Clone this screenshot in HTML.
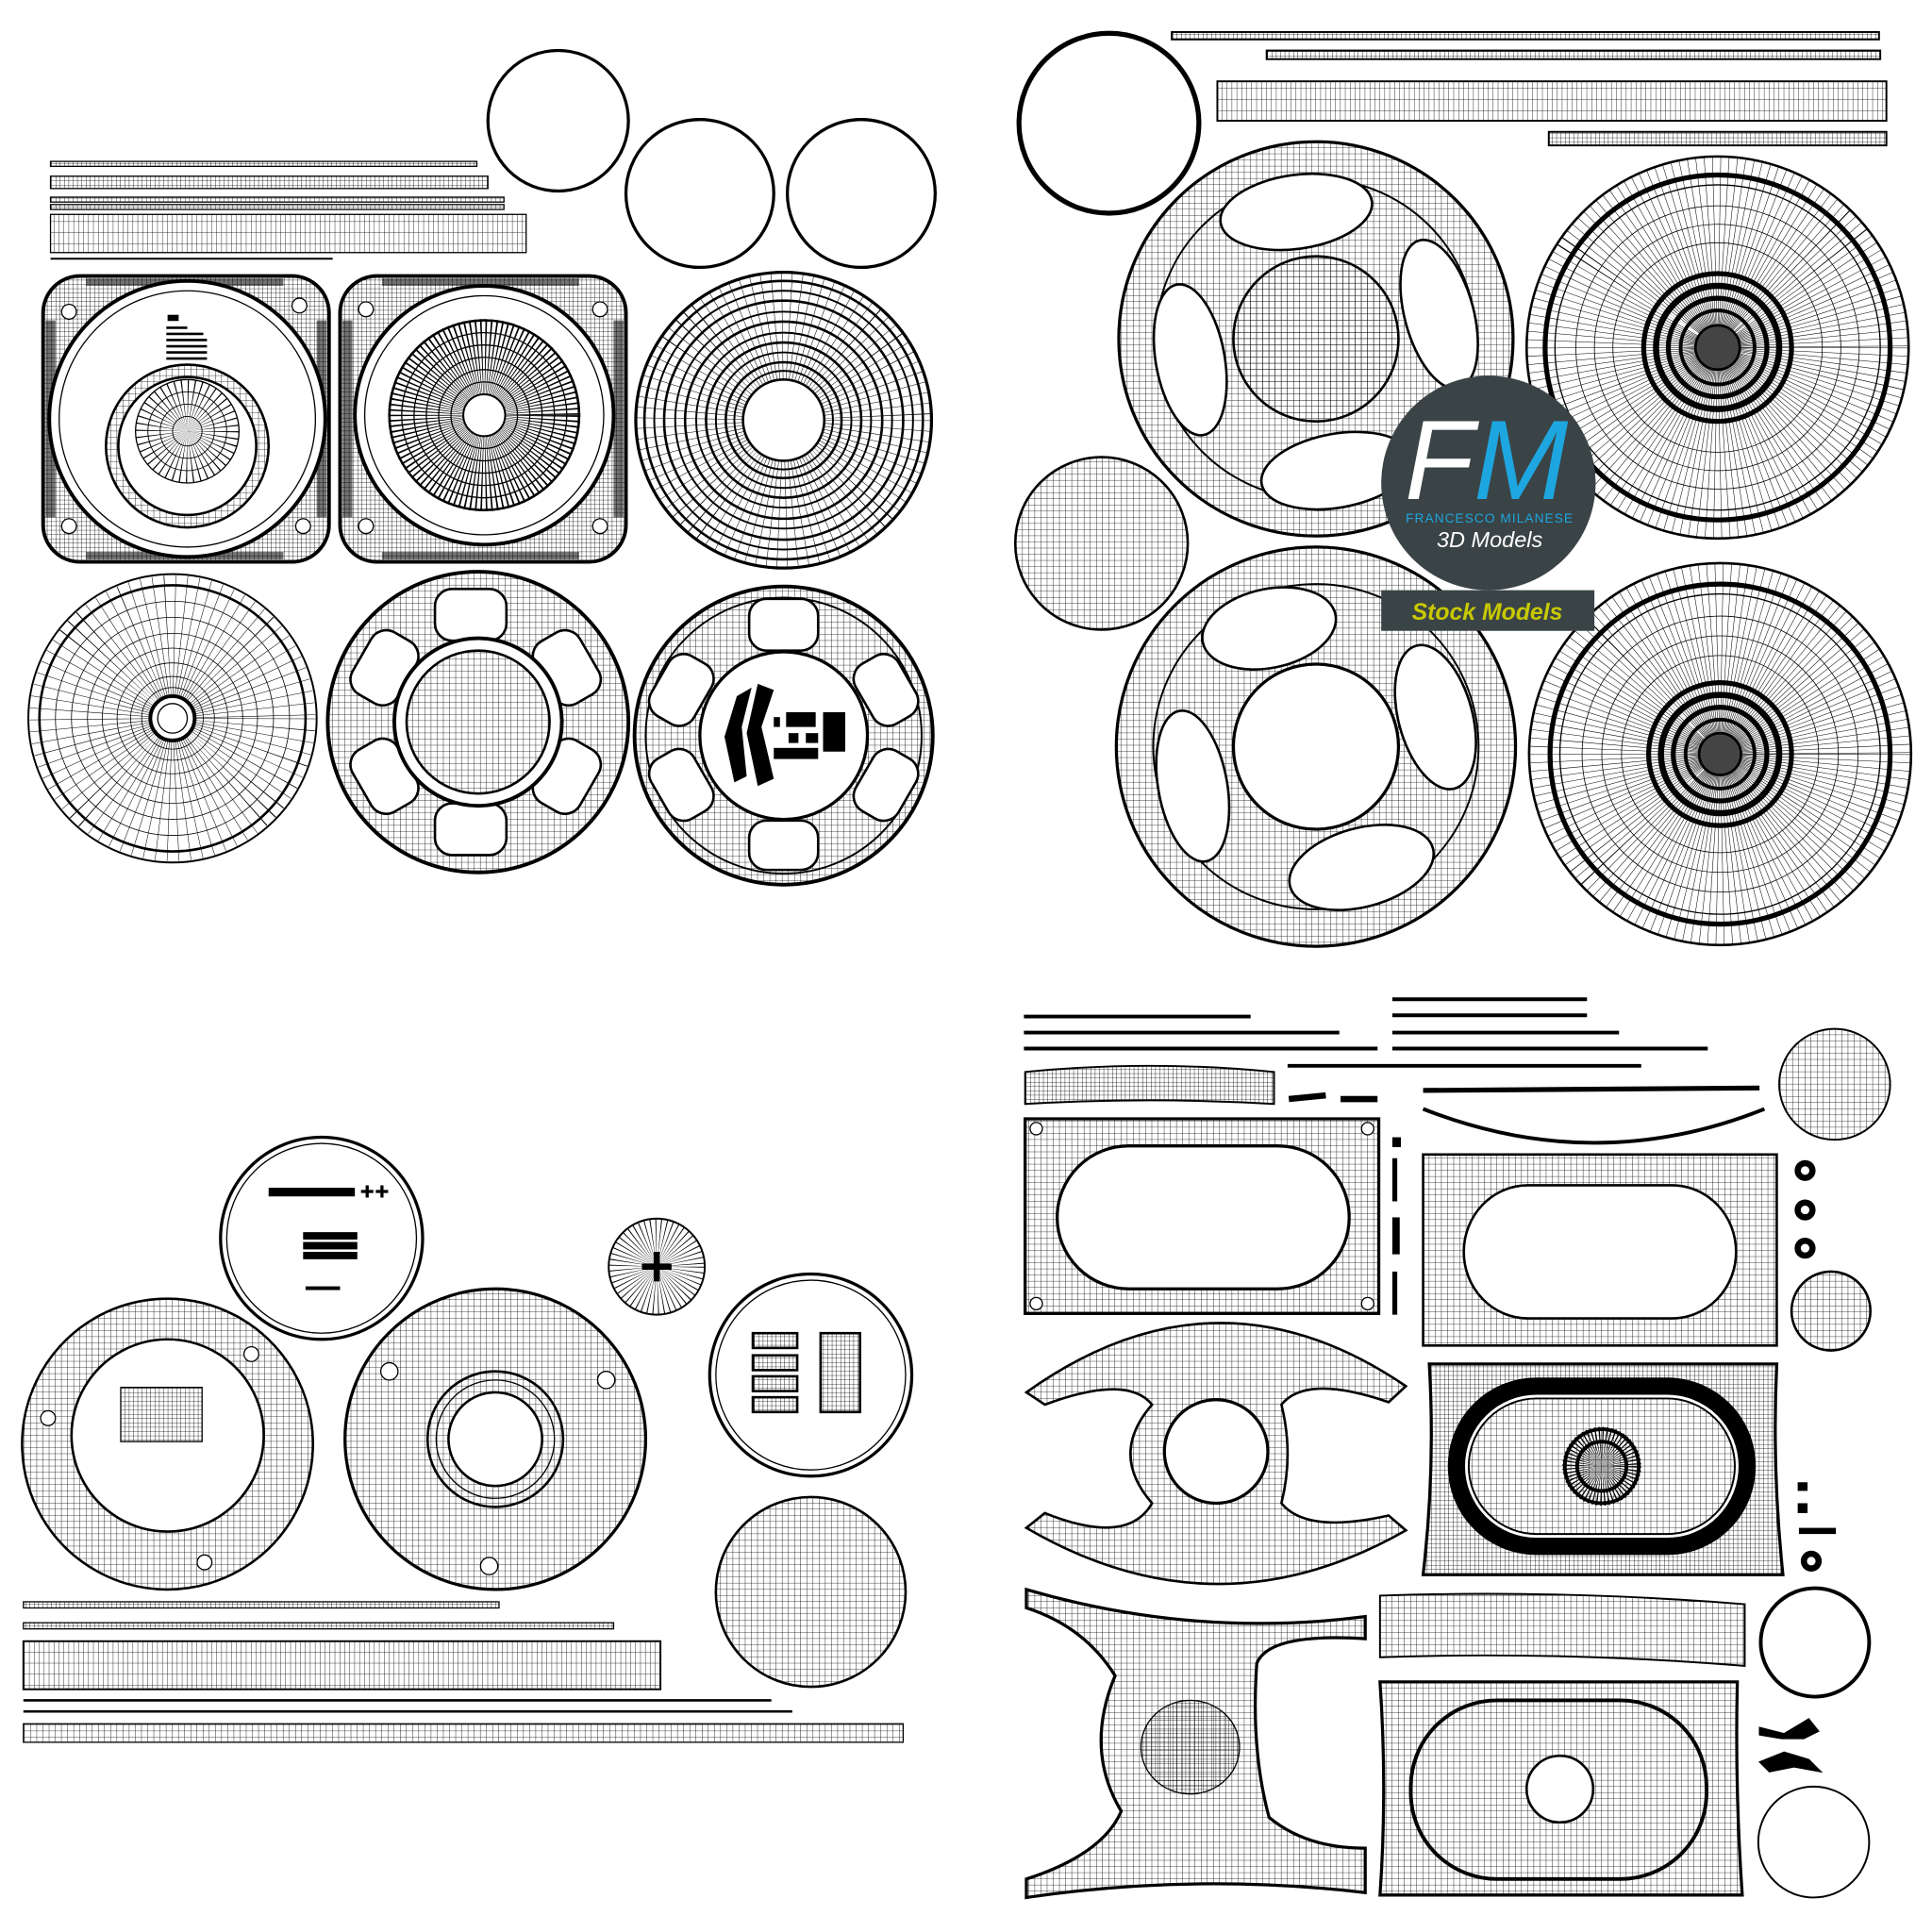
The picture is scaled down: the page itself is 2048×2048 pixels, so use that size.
<!DOCTYPE html>
<html><head><meta charset="utf-8"><style>
html,body{margin:0;padding:0;background:#fff}
svg{display:block}
</style></head><body>
<svg width="2048" height="2048" viewBox="0 0 1568 1568" xmlns="http://www.w3.org/2000/svg">
<defs>
<pattern id="g" width="5" height="5" patternUnits="userSpaceOnUse"><path d="M5 0V5H0" fill="none" stroke="#000" stroke-width="0.6"/></pattern>
<pattern id="g2" width="3.5" height="3.5" patternUnits="userSpaceOnUse"><path d="M3.5 0V3.5H0" fill="none" stroke="#000" stroke-width="0.6"/></pattern>
<pattern id="gv" width="4" height="9" patternUnits="userSpaceOnUse"><path d="M4 0V9M0 9H4" fill="none" stroke="#000" stroke-width="0.6"/></pattern>
</defs>
<rect width="1568" height="1568" fill="#fff"/>
<g fill="none" stroke="#000">

<!-- TOP LEFT -->
<circle cx="453" cy="98" r="57" stroke-width="2.5"/>
<circle cx="568" cy="157" r="60" stroke-width="2.5"/>
<circle cx="699" cy="157" r="60" stroke-width="2.5"/>
<rect x="41" y="131" width="346" height="4" fill="url(#g2)" stroke-width="1"/>
<rect x="41" y="143" width="355" height="10" fill="url(#g2)" stroke-width="1"/>
<rect x="41" y="160" width="368" height="4" fill="url(#g2)" stroke-width="1"/>
<rect x="41" y="166" width="368" height="4" fill="url(#g2)" stroke-width="1"/>
<rect x="41" y="174" width="386" height="31" fill="url(#gv)" stroke-width="1"/>
<line x1="41" y1="210" x2="270" y2="210" stroke-width="1.5"/>

<!-- speaker 1 -->
<rect x="35" y="224" width="232" height="232" rx="30" fill="url(#g2)" stroke-width="3"/>
<g fill="#000" stroke="none" opacity="0.55"><rect x="37" y="260" width="8" height="160"/><rect x="257" y="260" width="8" height="160"/><rect x="70" y="226" width="160" height="6"/><rect x="70" y="448" width="160" height="6"/></g>
<circle cx="152" cy="340" r="112" fill="#fff" stroke-width="3"/>
<circle cx="152" cy="340" r="104" stroke-width="1"/>
<circle cx="56" cy="253" r="6" fill="#fff"/><circle cx="243" cy="248" r="6" fill="#fff"/>
<circle cx="56" cy="427" r="6" fill="#fff"/><circle cx="246" cy="427" r="6" fill="#fff"/>
<circle cx="152" cy="362" r="66" fill="url(#g)" stroke-width="2"/>
<circle cx="152" cy="362" r="56" fill="#fff" stroke-width="2"/>
<circle cx="152" cy="350" r="21" stroke-width="42" stroke-dasharray="0.5 2.5"/>
<circle cx="152" cy="350" r="42" stroke-width="1"/><circle cx="152" cy="350" r="32" stroke-width="0.7"/><circle cx="152" cy="350" r="22" stroke-width="0.7"/><circle cx="152" cy="350" r="12" stroke-width="0.7"/>
<g stroke-width="2"><line x1="136" y1="258" x2="145" y2="258" stroke-width="5"/><line x1="135" y1="266" x2="152" y2="266"/><line x1="135" y1="271" x2="165" y2="271"/><line x1="135" y1="276" x2="168" y2="276"/><line x1="135" y1="281" x2="168" y2="281"/><line x1="135" y1="286" x2="168" y2="286"/><line x1="135" y1="291" x2="168" y2="291"/></g>

<!-- speaker 2 -->
<rect x="276" y="224" width="232" height="232" rx="30" fill="url(#g2)" stroke-width="3"/>
<g fill="#000" stroke="none" opacity="0.55"><rect x="278" y="260" width="8" height="160"/><rect x="498" y="260" width="8" height="160"/><rect x="310" y="226" width="160" height="6"/><rect x="310" y="448" width="160" height="6"/></g>
<circle cx="393" cy="337" r="105" fill="#fff" stroke-width="3"/>
<circle cx="393" cy="337" r="97" stroke-width="1"/>
<circle cx="297" cy="251" r="6" fill="#fff"/><circle cx="487" cy="251" r="6" fill="#fff"/>
<circle cx="297" cy="427" r="6" fill="#fff"/><circle cx="487" cy="427" r="6" fill="#fff"/>
<circle cx="393" cy="337" r="39" stroke-width="78" stroke-dasharray="0.7 1.6"/>
<circle cx="393" cy="337" r="77" stroke-width="2"/><circle cx="393" cy="337" r="67" stroke-width="1"/><circle cx="393" cy="337" r="57" stroke-width="1"/><circle cx="393" cy="337" r="47" stroke-width="1"/><circle cx="393" cy="337" r="37" stroke-width="1"/><circle cx="393" cy="337" r="27" stroke-width="1"/>
<circle cx="393" cy="337" r="17" fill="#fff" stroke-width="1.5"/>

<!-- concentric disc -->
<circle cx="636" cy="341" r="60" stroke-width="120" stroke-dasharray="0.4 4"/>
<circle cx="636" cy="341" r="120" stroke-width="2.5"/>
<circle cx="636" cy="341" r="113" stroke-width="2"/><circle cx="636" cy="341" r="105" stroke-width="1.5"/><circle cx="636" cy="341" r="97" stroke-width="2"/><circle cx="636" cy="341" r="88" stroke-width="1.5"/><circle cx="636" cy="341" r="80" stroke-width="2"/><circle cx="636" cy="341" r="71" stroke-width="1.5"/><circle cx="636" cy="341" r="63" stroke-width="2"/><circle cx="636" cy="341" r="55" stroke-width="1.5"/><circle cx="636" cy="341" r="47" stroke-width="2"/><circle cx="636" cy="341" r="40" stroke-width="1.5"/>
<circle cx="636" cy="341" r="33" fill="#fff" stroke-width="2"/>

<!-- radial disc -->
<circle cx="140" cy="583" r="58" stroke-width="116" stroke-dasharray="0.4 4.5"/>
<circle cx="140" cy="583" r="117" stroke-width="1.5"/><circle cx="140" cy="583" r="108" stroke-width="2"/>
<circle cx="140" cy="583" r="95" stroke-width="0.6"/><circle cx="140" cy="583" r="82" stroke-width="0.6"/><circle cx="140" cy="583" r="69" stroke-width="0.6"/><circle cx="140" cy="583" r="57" stroke-width="0.6"/><circle cx="140" cy="583" r="45" stroke-width="0.6"/><circle cx="140" cy="583" r="34" stroke-width="0.6"/><circle cx="140" cy="583" r="25" stroke-width="0.6"/>
<circle cx="140" cy="583" r="18" fill="#fff" stroke-width="3"/><circle cx="140" cy="583" r="12" stroke-width="1"/>

<!-- wheel 6 holes -->
<circle cx="388" cy="586" r="122" fill="url(#g)" stroke-width="3"/>
<g fill="#fff" stroke-width="2">
<rect x="353" y="478" width="58" height="42" rx="14"/><rect x="353" y="652" width="58" height="42" rx="14"/>
<rect x="-29" y="-21" width="58" height="42" rx="14" transform="translate(460,542) rotate(60)"/>
<rect x="-29" y="-21" width="58" height="42" rx="14" transform="translate(460,630) rotate(-60)"/>
<rect x="-29" y="-21" width="58" height="42" rx="14" transform="translate(312,542) rotate(-60)"/>
<rect x="-29" y="-21" width="58" height="42" rx="14" transform="translate(312,630) rotate(60)"/>
</g>
<circle cx="388" cy="586" r="68" fill="#fff" stroke-width="3"/>
<circle cx="388" cy="586" r="58" fill="url(#g)" stroke-width="2"/>

<!-- wheel 3 -->
<circle cx="636" cy="597" r="121" fill="url(#g)" stroke-width="3"/>
<circle cx="636" cy="597" r="112" stroke-width="1.5"/>
<g fill="#fff" stroke-width="2">
<rect x="608" y="486" width="56" height="42" rx="14"/><rect x="608" y="666" width="56" height="40" rx="14"/>
<rect x="-28" y="-20" width="56" height="40" rx="14" transform="translate(719,560) rotate(60)"/>
<rect x="-28" y="-20" width="56" height="40" rx="14" transform="translate(719,637) rotate(-60)"/>
<rect x="-28" y="-20" width="56" height="40" rx="14" transform="translate(553,560) rotate(-60)"/>
<rect x="-28" y="-20" width="56" height="40" rx="14" transform="translate(553,637) rotate(60)"/>
</g>
<circle cx="636" cy="597" r="68" fill="#fff" stroke-width="2.5"/>
<g fill="#000" stroke="none">
<path d="M598 565 L610 558 L602 590 L606 630 L596 635 L588 598Z"/>
<path d="M615 555 L628 560 L618 590 L628 632 L615 638 L606 595Z"/>
<rect x="638" y="578" width="24" height="12"/><rect x="668" y="578" width="18" height="32"/>
<rect x="628" y="582" width="5" height="8"/><rect x="654" y="595" width="10" height="8"/><rect x="628" y="607" width="36" height="9"/><rect x="640" y="595" width="8" height="8"/>
</g>

<!-- TOP RIGHT -->
<circle cx="900" cy="100" r="73" stroke-width="4"/>
<rect x="951" y="26" width="574" height="6" fill="url(#g2)" stroke-width="1.5"/>
<rect x="1028" y="41" width="498" height="7" fill="url(#g2)" stroke-width="1.5"/>
<rect x="988" y="66" width="543" height="32" fill="url(#gv)" stroke-width="1.5"/>
<rect x="1257" y="107" width="274" height="11" fill="url(#g2)" stroke-width="1.5"/>

<!-- steering wheel 1 -->
<circle cx="1068" cy="275" r="160" fill="url(#g)" stroke-width="2.5"/>
<circle cx="1068" cy="275" r="130" stroke-width="1.5"/>
<g fill="#fff" stroke-width="2">
<ellipse cx="1052" cy="172" rx="62" ry="30" transform="rotate(-8 1052 172)"/>
<ellipse cx="1168" cy="255" rx="62" ry="28" transform="rotate(75 1168 255)"/>
<ellipse cx="1085" cy="382" rx="62" ry="30" transform="rotate(-10 1085 382)"/>
<ellipse cx="966" cy="292" rx="62" ry="28" transform="rotate(80 966 292)"/>
</g>
<circle cx="1068" cy="275" r="67" fill="url(#g)" stroke-width="2"/>

<!-- disc 1 -->
<circle cx="1394" cy="282" r="77" stroke-width="155" stroke-dasharray="0.4 3"/>
<circle cx="1394" cy="282" r="155" stroke-width="2"/><circle cx="1394" cy="282" r="140" stroke-width="4"/><circle cx="1394" cy="282" r="132" stroke-width="1"/>
<circle cx="1394" cy="282" r="115" stroke-width="0.6"/><circle cx="1394" cy="282" r="100" stroke-width="0.6"/><circle cx="1394" cy="282" r="85" stroke-width="0.6"/>
<circle cx="1394" cy="282" r="60" stroke-width="4"/><circle cx="1394" cy="282" r="50" stroke-width="5"/><circle cx="1394" cy="282" r="40" stroke-width="4"/><circle cx="1394" cy="282" r="30" stroke-width="3"/><circle cx="1394" cy="282" r="18" fill="#444" stroke-width="2"/>

<!-- sphere -->
<circle cx="894" cy="441" r="70" fill="url(#g)" stroke-width="2"/>

<!-- steering wheel 2 -->
<circle cx="1068" cy="606" r="162" fill="url(#g)" stroke-width="2.5"/>
<circle cx="1068" cy="606" r="132" stroke-width="1.5"/>
<g fill="#fff" stroke-width="2">
<ellipse cx="1030" cy="510" rx="55" ry="32" transform="rotate(-12 1030 510)"/>
<ellipse cx="1165" cy="582" rx="60" ry="30" transform="rotate(75 1165 582)"/>
<ellipse cx="1105" cy="704" rx="60" ry="32" transform="rotate(-15 1105 704)"/>
<ellipse cx="968" cy="638" rx="62" ry="28" transform="rotate(80 968 638)"/>
</g>
<circle cx="1068" cy="606" r="67" fill="#fff" stroke-width="2.5"/>

<!-- disc 2 -->
<circle cx="1396" cy="612" r="77" stroke-width="155" stroke-dasharray="0.4 3"/>
<circle cx="1396" cy="612" r="155" stroke-width="2"/><circle cx="1396" cy="612" r="138" stroke-width="4"/><circle cx="1396" cy="612" r="130" stroke-width="1"/>
<circle cx="1396" cy="612" r="112" stroke-width="0.6"/><circle cx="1396" cy="612" r="96" stroke-width="0.6"/><circle cx="1396" cy="612" r="80" stroke-width="0.6"/>
<circle cx="1396" cy="612" r="58" stroke-width="4"/><circle cx="1396" cy="612" r="48" stroke-width="5"/><circle cx="1396" cy="612" r="38" stroke-width="4"/><circle cx="1396" cy="612" r="28" stroke-width="3"/><circle cx="1396" cy="612" r="17" fill="#444" stroke-width="2"/>

<!-- BOTTOM LEFT -->
<circle cx="261" cy="1005" r="82" stroke-width="2.5"/><circle cx="261" cy="1005" r="77" stroke-width="1"/>
<g fill="#000" stroke="none"><rect x="218" y="964" width="70" height="7"/><rect x="246" y="1000" width="44" height="6"/><rect x="246" y="1008" width="44" height="6"/><rect x="246" y="1016" width="44" height="6"/><rect x="248" y="1044" width="28" height="3"/></g>
<path d="M298 962v10M293 967h10M310 962v10M305 967h10" stroke-width="2.5"/>
<circle cx="533" cy="1028" r="19" stroke-width="39" stroke-dasharray="0.4 2"/>
<circle cx="533" cy="1028" r="39" stroke-width="1.5"/>
<path d="M533 1016v24M521 1028h24" stroke-width="5"/>

<path d="M136 1054a118 118 0 1 1 -0.1 0Z M136 1087a78 78 0 1 0 0.1 0Z" fill="url(#g)" fill-rule="evenodd" stroke-width="2"/>
<circle cx="39" cy="1151" r="6" fill="#fff"/><circle cx="204" cy="1099" r="6" fill="#fff"/><circle cx="166" cy="1268" r="6" fill="#fff"/>
<rect x="98" y="1126" width="66" height="44" fill="url(#g2)" stroke-width="1"/>

<circle cx="402" cy="1168" r="122" fill="url(#g)" stroke-width="2.5"/>
<circle cx="402" cy="1168" r="55" stroke-width="2"/><circle cx="402" cy="1168" r="48" stroke-width="1"/>
<circle cx="402" cy="1168" r="38" fill="#fff" stroke-width="2"/>
<circle cx="316" cy="1113" r="7" fill="#fff"/><circle cx="492" cy="1120" r="7" fill="#fff"/><circle cx="397" cy="1271" r="7" fill="#fff"/>

<circle cx="658" cy="1116" r="82" stroke-width="2.5"/><circle cx="658" cy="1116" r="77" stroke-width="1"/>
<g fill="url(#g2)" stroke-width="2"><rect x="611" y="1082" width="36" height="12"/><rect x="611" y="1100" width="36" height="12"/><rect x="611" y="1117" width="36" height="12"/><rect x="611" y="1134" width="36" height="12"/><rect x="666" y="1082" width="32" height="64"/></g>
<circle cx="658" cy="1292" r="77" fill="url(#g)" stroke-width="2"/>

<rect x="19" y="1300" width="386" height="5" fill="url(#g2)" stroke-width="1"/>
<rect x="19" y="1317" width="479" height="5" fill="url(#g2)" stroke-width="1"/>
<rect x="19" y="1332" width="517" height="39" fill="url(#gv)" stroke-width="1.5"/>
<line x1="19" y1="1380" x2="626" y2="1380" stroke-width="2"/>
<line x1="19" y1="1389" x2="643" y2="1389" stroke-width="2"/>
<rect x="19" y="1399" width="714" height="15" fill="url(#g)" stroke-width="1"/>

<!-- BOTTOM RIGHT -->
<g stroke-width="3">
<line x1="831" y1="825" x2="1015" y2="825"/><line x1="831" y1="838" x2="1087" y2="838"/><line x1="831" y1="851" x2="1118" y2="851"/>
<line x1="1130" y1="811" x2="1288" y2="811"/><line x1="1130" y1="824" x2="1288" y2="824"/><line x1="1130" y1="838" x2="1314" y2="838"/><line x1="1130" y1="851" x2="1386" y2="851"/><line x1="1045" y1="865" x2="1332" y2="865"/>
<line x1="1155" y1="885" x2="1428" y2="883" stroke-width="4"/>
<path d="M1155 900Q1295 955 1432 900"/>
<path d="M1046 892l30 -3M1088 892l30 0" stroke-width="5"/>
</g>
<path d="M832 870Q933 860 1034 870V896Q933 890 832 896Z" fill="url(#g2)" stroke-width="1.5"/>
<circle cx="1489" cy="880" r="45" fill="url(#g)" stroke-width="1.5"/>
<path d="M832 908H1119V1066H832Z M916 930H1037A58 58 0 0 1 1037 1046H916A58 58 0 0 1 916 930Z" fill="url(#g)" fill-rule="evenodd" stroke-width="2.5"/>
<circle cx="841" cy="916" r="5" fill="#fff"/><circle cx="1110" cy="916" r="5" fill="#fff"/><circle cx="841" cy="1058" r="5" fill="#fff"/><circle cx="1110" cy="1058" r="5" fill="#fff"/>
<g fill="#000" stroke="none"><rect x="1130" y="923" width="7" height="8"/><rect x="1130" y="940" width="4" height="35"/><rect x="1130" y="988" width="6" height="30"/><rect x="1130" y="1032" width="4" height="35"/></g>
<path d="M1155 937H1442V1092H1155Z M1240 962H1357A52 54 0 0 1 1357 1070H1240A52 54 0 0 1 1240 962Z" fill="url(#g)" fill-rule="evenodd" stroke-width="2"/>
<g stroke-width="5"><circle cx="1465" cy="950" r="6"/><circle cx="1465" cy="982" r="6"/><circle cx="1465" cy="1013" r="6"/><circle cx="1470" cy="1267" r="6"/></g>
<circle cx="1486" cy="1064" r="32" fill="url(#g)" stroke-width="2"/>
<path d="M833 1130Q987 1020 1141 1125L1127 1138Q1060 1115 1040 1140Q1050 1180 1040 1220Q1060 1245 1127 1230L1141 1242Q987 1330 833 1240L848 1228Q915 1255 935 1220Q900 1180 935 1140Q915 1115 848 1140Z" fill="url(#g)" stroke-width="2"/>
<circle cx="987" cy="1178" r="42" fill="#fff" stroke-width="2.5"/>
<path d="M1160 1107H1442Q1438 1192 1447 1278H1155Q1165 1192 1160 1107Z" fill="url(#g2)" stroke-width="2.5"/>
<rect x="1182" y="1125" width="236" height="130" rx="65" fill="#fff" stroke="#000" stroke-width="14"/>
<rect x="1192" y="1135" width="216" height="110" rx="55" fill="url(#g)" stroke-width="1.5"/>
<circle cx="1300" cy="1190" r="16" stroke-width="32" stroke-dasharray="0.6 1.2"/>
<circle cx="1300" cy="1190" r="30" stroke-width="3"/><circle cx="1300" cy="1190" r="20" stroke-width="3"/>
<g fill="#000" stroke="none"><rect x="1459" y="1203" width="8" height="7"/><rect x="1459" y="1220" width="8" height="8"/><rect x="1460" y="1240" width="30" height="5"/></g>
<path d="M833 1290Q970 1330 1108 1312V1330Q1030 1325 1020 1350Q1015 1420 1030 1475Q1060 1500 1108 1500V1536Q970 1520 833 1540L833 1525Q895 1505 910 1470Q880 1420 905 1360Q880 1320 833 1305Z" fill="url(#g)" stroke-width="2.5"/>
<ellipse cx="966" cy="1418" rx="40" ry="38" fill="url(#g2)" stroke-width="1"/>
<path d="M1120 1295Q1268 1290 1416 1302V1352Q1268 1340 1120 1345Z" fill="url(#g)" stroke-width="1.5"/>
<circle cx="1473" cy="1333" r="44" stroke-width="3"/>
<path d="M1128 1365H1410Q1408 1452 1414 1538H1120Q1126 1452 1120 1365Z" fill="url(#g)" stroke-width="2.5"/>
<rect x="1145" y="1380" width="240" height="145" rx="70" stroke-width="3"/>
<circle cx="1266" cy="1452" r="27" fill="#fff" stroke-width="2"/>
<path d="M1428 1402l20 5 20 -12 8 10-12 6-18 0-18-3Z M1428 1430l20 -8 20 6 10 10-22 -4-20 4Z" fill="#000" stroke-width="1"/>
<circle cx="1472" cy="1495" r="45" stroke-width="1.5"/>
</g>

<!-- LOGO -->
<circle cx="1208" cy="392" r="87" fill="#3a4446"/>
<text x="1140" y="405" font-family="Liberation Sans, sans-serif" font-style="italic" font-size="92" fill="#fff">F</text>
<text x="1196" y="405" font-family="Liberation Sans, sans-serif" font-style="italic" font-size="92" fill="#1ea6e0">M</text>
<text x="1209" y="424" text-anchor="middle" font-family="Liberation Sans, sans-serif" font-size="10.5" letter-spacing="0.8" fill="#1ea6e0">FRANCESCO MILANESE</text>
<text x="1209" y="444" text-anchor="middle" font-family="Liberation Sans, sans-serif" font-style="italic" font-size="18" fill="#fff">3D Models</text>
<rect x="1121" y="479" width="173" height="33" fill="#3a4446"/>
<text x="1207" y="503" text-anchor="middle" font-family="Liberation Sans, sans-serif" font-style="italic" font-weight="bold" font-size="19" fill="#c8c800">Stock Models</text>
</svg>
</body></html>
